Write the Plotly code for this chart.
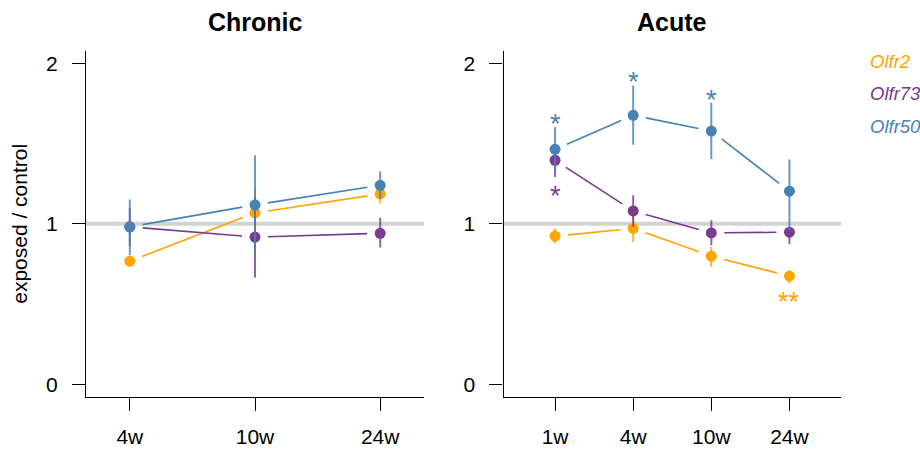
import plotly.graph_objects as go

# ---------------- data ----------------
chronic_weeks = ["4w", "10w", "24w"]
acute_weeks = ["1w", "4w", "10w", "24w"]
genes = ["Olfr2", "Olfr73", "Olfr50"]

chronic_mean = {
    "Olfr2":  [0.767, 1.068, 1.186],
    "Olfr73": [0.981, 0.917, 0.941],
    "Olfr50": [0.981, 1.118, 1.240],
}
chronic_lo = {
    "Olfr2":  [0.742, 0.916, 1.126],
    "Olfr73": [0.860, 0.666, 0.853],
    "Olfr50": [0.804, 0.804, 1.153],
}
chronic_hi = {
    "Olfr2":  [0.792, 1.220, 1.246],
    "Olfr73": [1.100, 1.168, 1.037],
    "Olfr50": [1.152, 1.427, 1.327],
}

acute_mean = {
    "Olfr2":  [0.923, 0.971, 0.798, 0.674],
    "Olfr73": [1.396, 1.080, 0.943, 0.948],
    "Olfr50": [1.464, 1.676, 1.578, 1.203],
}
acute_lo = {
    "Olfr2":  [0.877, 0.887, 0.732, 0.629],
    "Olfr73": [1.292, 0.981, 0.867, 0.872],
    "Olfr50": [1.325, 1.493, 1.402, 0.960],
}
acute_hi = {
    "Olfr2":  [0.971, 1.055, 0.856, 0.707],
    "Olfr73": [1.500, 1.178, 1.022, 0.981],
    "Olfr50": [1.603, 1.862, 1.755, 1.400],
}
acute_sig = {
    "Olfr2":  ["", "", "", "**"],
    "Olfr73": ["*", "", "", ""],
    "Olfr50": ["*", "*", "*", ""],
}

y_ticks = [0, 1, 2]

# ---------------- style ----------------
colors = {"Olfr2": "#FFA500", "Olfr73": "#783B8E", "Olfr50": "#4682B4"}
err_colors = {"Olfr2": "rgba(255,165,0,0.8)", "Olfr73": "rgba(120,59,142,0.8)",
              "Olfr50": "rgba(70,130,180,0.8)"}
sig_side = {"Olfr2": "below", "Olfr73": "below", "Olfr50": "above"}
FONT = "Liberation Sans, Arial, Helvetica, sans-serif"
W, H = 920, 450
GAP = 13  # px gap between line ends and points (R type="b")

panels = [
    dict(name="Chronic", weeks=chronic_weeks, mean=chronic_mean, lo=chronic_lo,
         hi=chronic_hi, sig=None, xa="x", ya="y", dom=[86 / W, 424 / W],
         xr=[0.65, 3.35]),
    dict(name="Acute", weeks=acute_weeks, mean=acute_mean, lo=acute_lo,
         hi=acute_hi, sig=acute_sig, xa="x2", ya="y2", dom=[503.5 / W, 841 / W],
         xr=[0.34, 4.66]),
]
ydom = [1 - 397.1 / H, 1 - 50.5 / H]
yr = [-0.08, 2.08]

fig = go.Figure()
annotations = []
shapes = []

for p in panels:
    sx = (p["dom"][1] - p["dom"][0]) * W / (p["xr"][1] - p["xr"][0])
    sy = (ydom[1] - ydom[0]) * H / (yr[1] - yr[0])
    xs = [i + 1 for i in range(len(p["weeks"]))]
    shapes.append(dict(type="line", xref=p["xa"] + " domain", yref=p["ya"],
                       x0=0, x1=1, y0=1, y1=1, layer="below",
                       line=dict(color="#D3D3D3", width=4)))
    for g in genes:
        ys = p["mean"][g]
        # line segments with gaps near points
        lx, ly = [], []
        for i in range(len(xs) - 1):
            dxp = (xs[i + 1] - xs[i]) * sx
            dyp = (ys[i + 1] - ys[i]) * sy
            d = (dxp ** 2 + dyp ** 2) ** 0.5
            f = GAP / d
            lx += [xs[i] + f * (xs[i + 1] - xs[i]), xs[i + 1] - f * (xs[i + 1] - xs[i]), None]
            ly += [ys[i] + f * (ys[i + 1] - ys[i]), ys[i + 1] - f * (ys[i + 1] - ys[i]), None]
        fig.add_trace(go.Scatter(x=lx, y=ly, mode="lines", xaxis=p["xa"], yaxis=p["ya"],
                                 line=dict(color=colors[g], width=1.6),
                                 showlegend=False, hoverinfo="skip"))
        fig.add_trace(go.Scatter(
            x=xs, y=ys, mode="markers", xaxis=p["xa"], yaxis=p["ya"],
            marker=dict(color=colors[g], size=11, line=dict(width=0)),
            error_y=dict(type="data", symmetric=False,
                         array=[h - m for h, m in zip(p["hi"][g], ys)],
                         arrayminus=[m - l for m, l in zip(ys, p["lo"][g])],
                         width=0, thickness=2, color=err_colors[g]),
            showlegend=False, name=g))
        if p["sig"]:
            for i, s in enumerate(p["sig"][g]):
                if not s:
                    continue
                if sig_side[g] == "above":
                    yv, shift = p["hi"][g][i], 3
                else:
                    yv, shift = p["lo"][g][i], -19
                annotations.append(dict(x=xs[i], y=yv, xref=p["xa"], yref=p["ya"],
                                        text=s, showarrow=False, yanchor="middle",
                                        yshift=shift,
                                        font=dict(family=FONT, size=27, color=colors[g])))
    annotations.append(dict(x=(p["dom"][0] + p["dom"][1]) / 2, y=1 - 21.7 / H,
                            xref="paper", yref="paper", text="<b>" + p["name"] + "</b>",
                            showarrow=False, xanchor="center", yanchor="middle",
                            font=dict(family=FONT, size=25, color="black")))

# legend as coloured text
leg_y = [61.7, 93.3, 126.0]
for g, yy in zip(genes, leg_y):
    annotations.append(dict(x=868 / W, y=1 - yy / H, xref="paper", yref="paper",
                            text="<i>" + g + "</i>", showarrow=False,
                            xanchor="left", yanchor="middle",
                            font=dict(family=FONT, size=18.5, color=colors[g])))

annotations.append(dict(x=20 / W, y=1 - 223.8 / H, xref="paper", yref="paper",
                        text="exposed / control", showarrow=False, textangle=-90,
                        xanchor="center", yanchor="middle",
                        font=dict(family=FONT, size=21, color="black")))

axis_common = dict(showline=True, linecolor="black", linewidth=1.3, ticks="outside",
                   ticklen=13, tickwidth=1.3, tickcolor="black", showgrid=False,
                   zeroline=False, automargin=False,
                   tickfont=dict(family=FONT, size=21, color="black"))

layout = dict(width=W, height=H, margin=dict(l=0, r=0, t=0, b=0),
              paper_bgcolor="white", plot_bgcolor="white",
              annotations=annotations, shapes=shapes, showlegend=False)
for k, p in enumerate(panels):
    suffix = "" if k == 0 else str(k + 1)
    layout["xaxis" + suffix] = dict(domain=p["dom"], range=p["xr"], anchor=p["ya"],
                                    tickvals=[i + 1 for i in range(len(p["weeks"]))],
                                    ticktext=p["weeks"], ticklabelstandoff=8,
                                    **axis_common)
    layout["yaxis" + suffix] = dict(domain=ydom, range=yr, anchor=p["xa"],
                                    tickvals=y_ticks, ticktext=[str(v) for v in y_ticks],
                                    ticklabelstandoff=10, **axis_common)
fig.update_layout(**layout)
fig.write_html("out.html")
